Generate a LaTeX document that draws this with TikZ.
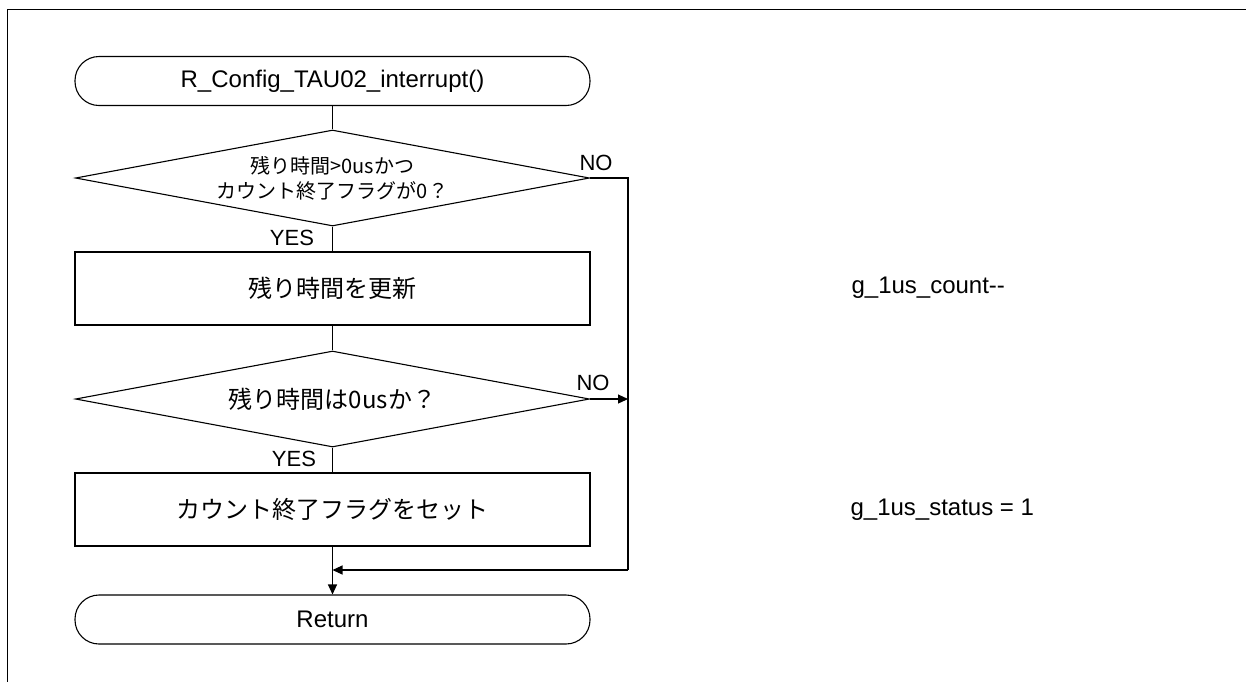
\documentclass[tikz,border=0pt]{standalone}
\usepackage{fontspec}
\setmainfont{Liberation Sans}
\newfontfamily\jp{Noto Sans CJK JP}
\usetikzlibrary{shapes.geometric,arrows.meta}

\begin{document}
\begin{tikzpicture}[x=0.5pt,y=-0.5pt,line width=0.55pt,
  term/.style={draw, rounded corners=12pt, minimum width=257.5pt, minimum height=24.5pt, inner sep=0pt, font=\fontsize{12}{14}\selectfont},
  proc/.style={draw, minimum width=257.5pt, minimum height=36.5pt, inner sep=0pt, font=\jp\fontsize{12}{14}\selectfont},
  dec/.style={draw, diamond, aspect=5.3, minimum width=257pt, minimum height=48pt, inner sep=0pt, align=center},
  lbl/.style={inner sep=0pt, font=\fontsize{11}{13}\selectfont},
  note/.style={inner sep=0pt, anchor=west, font=\fontsize{12}{14}\selectfont},
  arr/.style={-{Triangle[length=5pt,width=4.5pt]}}]
  \useasboundingbox (0,0) rectangle (1246,682);
  % page frame
  \draw[line width=0.75pt] (1246,9.5) -- (7.5,9.5) -- (7.5,682);
  % flow chart nodes
  \node[term] (start) at (332.5,81) {R\_Config\_TAU02\_interrupt()};
  \node[dec, font=\jp\fontsize{10}{15}\selectfont] (chk_time) at (332.5,178) {残り時間>0usかつ\\[-2.5pt]カウント終了フラグが0？};
  \node[proc] (upd_time) at (332.5,288.5) {残り時間を更新};
  \node[dec, font=\jp\fontsize{12}{14}\selectfont] (chk_zero) at (332.5,399) {残り時間は0usか？};
  \node[proc] (set_flag) at (332.5,509.5) {カウント終了フラグをセット};
  \node[term] (ret) at (332.5,619.5) {Return};
  \coordinate (join) at (628,570);
  % branch labels
  \node[lbl] (yes_time) at (292,238) {YES};
  \node[lbl] (no_time) at (596,163) {NO};
  \node[lbl] (yes_zero) at (294,459) {YES};
  \node[lbl] (no_zero) at (593,383) {NO};
  % side notes
  \node[note] (note_count) at (851,288) {g\_1us\_count-{}-};
  \node[note] (note_status) at (850,510) {g\_1us\_status = 1};
  % connectors
  \draw (start) -- (chk_time);
  \draw (chk_time) -- (upd_time);
  \draw (upd_time) -- (chk_zero);
  \draw (chk_zero) -- (set_flag);
  \draw[arr] (set_flag) -- (ret);
  \draw (chk_time.east) -| (join);
  \draw[arr] (chk_zero.east) -- (chk_zero.east -| join);
  \draw[arr] (join) -- (join -| ret.north);
\end{tikzpicture}
\end{document}
